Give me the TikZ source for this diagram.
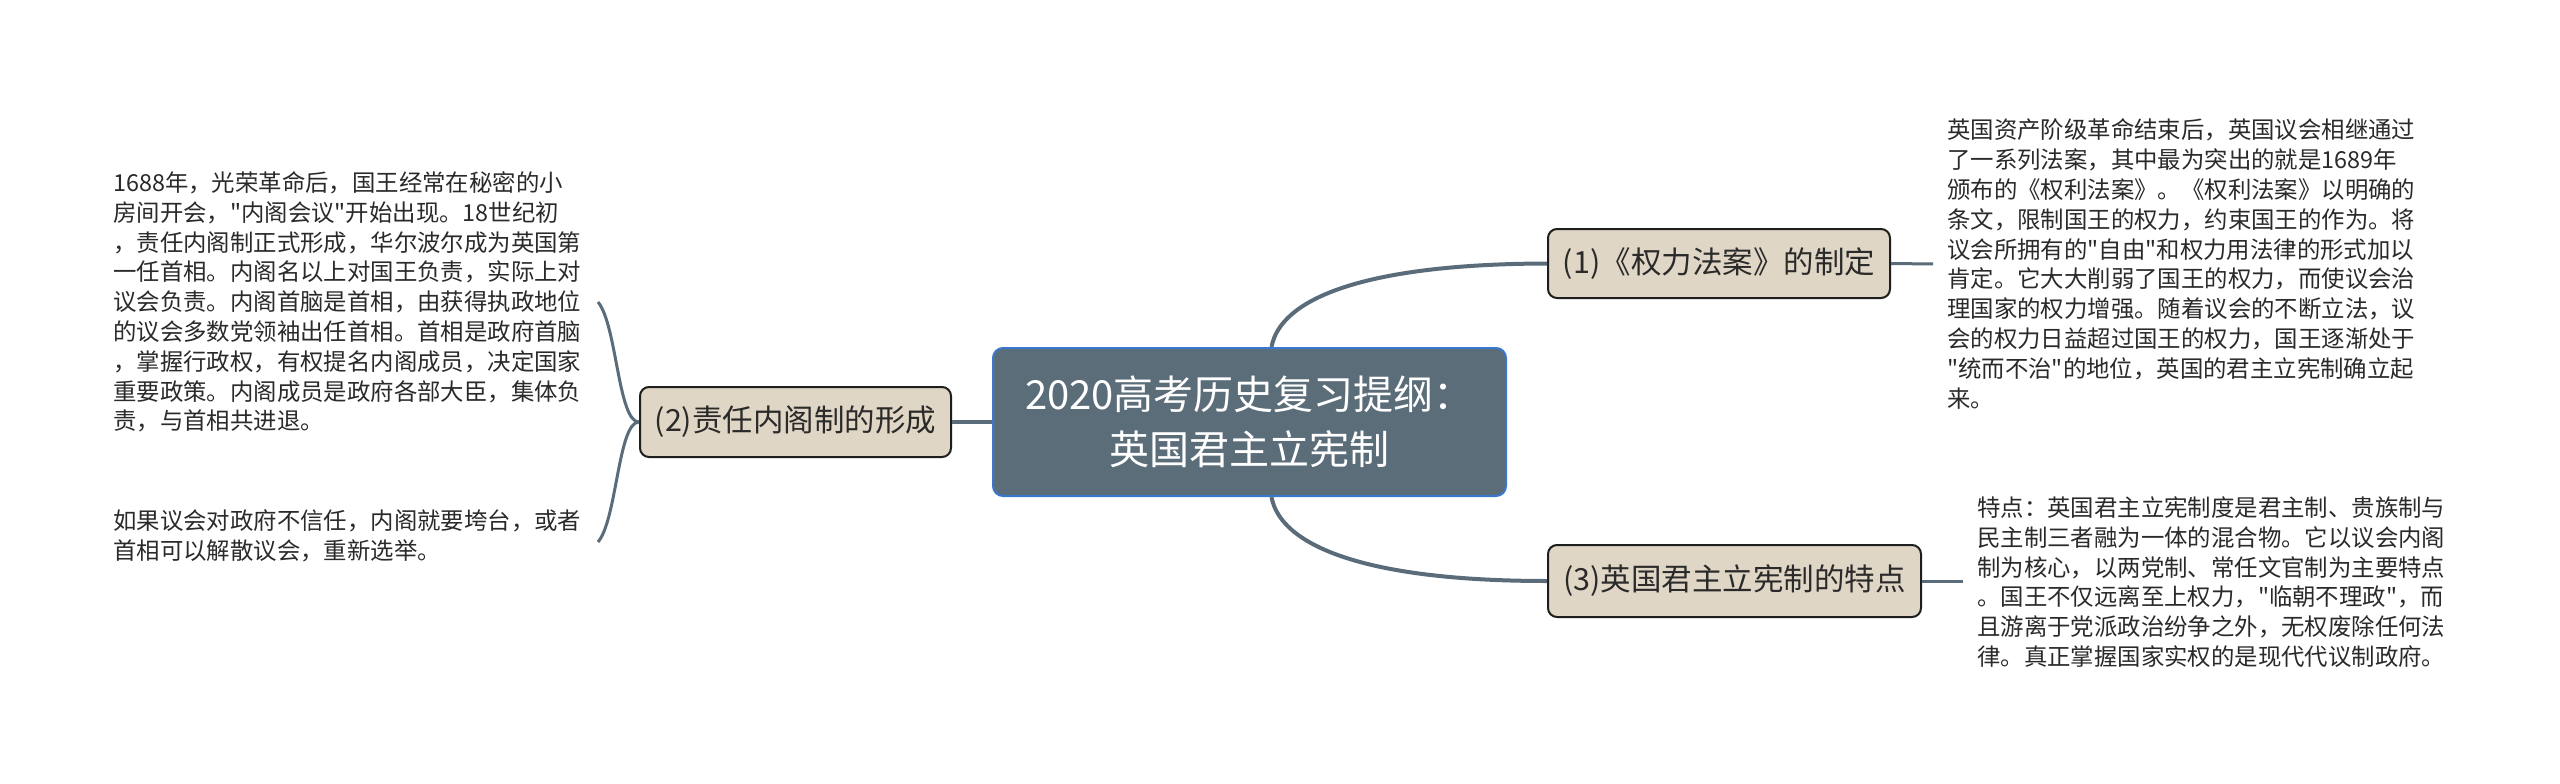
\documentclass[tikz,border=0pt]{standalone}
\usepackage{fontspec}
\setmainfont{Noto Sans CJK SC}[Ligatures=TeXOff]
\definecolor{rootfill}{HTML}{5C6D7A}
\definecolor{rootborder}{HTML}{3A78D0}
\definecolor{nodefill}{HTML}{E0D6C6}
\definecolor{nodeborder}{HTML}{1E1E1E}
\definecolor{linecol}{HTML}{5A6C7A}
\definecolor{textdark}{HTML}{2A2A2A}
\begin{document}
\begin{tikzpicture}[x=1pt,y=-1pt,
  rootbox/.style={draw=rootborder, line width=2pt, fill=rootfill, rounded corners=10pt, text=white,
    font=\fontsize{40}{55}\selectfont, align=center, minimum width=513pt, minimum height=148pt, inner sep=0pt},
  branchbox/.style={draw=nodeborder, line width=2pt, fill=nodefill, rounded corners=9pt, text=textdark,
    font=\fontsize{30.5}{36}\selectfont, inner sep=0pt},
  leaftext/.style={text=textdark, font=\fontsize{23.4}{29.8}\selectfont, align=left, inner sep=0pt, anchor=west},
  mainconn/.style={draw=linecol, line width=4pt},
  leafconn/.style={draw=linecol, line width=3pt}]
\useasboundingbox (0,0) rectangle (2560,784);
\fill[white] (0,0) rectangle (2560,784);

\node[rootbox] (root) at (1249.5,422) {2020高考历史复习提纲：\\英国君主立宪制};
\node[branchbox, minimum width=342pt, minimum height=69pt] (n1) at (1719,263.5) {(1)《权力法案》的制定};
\node[branchbox, minimum width=311pt, minimum height=70pt] (n2) at (795.5,422) {(2)责任内阁制的形成};
\node[branchbox, minimum width=373pt, minimum height=72pt] (n3) at (1734.5,581) {(3)英国君主立宪制的特点};

\node[leaftext] (l1) at (113,302) {1688年，光荣革命后，国王经常在秘密的小\\房间开会，"内阁会议"开始出现。18世纪初\\，责任内阁制正式形成，华尔波尔成为英国第\\一任首相。内阁名以上对国王负责，实际上对\\议会负责。内阁首脑是首相，由获得执政地位\\的议会多数党领袖出任首相。首相是政府首脑\\，掌握行政权，有权提名内阁成员，决定国家\\重要政策。内阁成员是政府各部大臣，集体负\\责，与首相共进退。};
\node[leaftext] (l2) at (113,536) {如果议会对政府不信任，内阁就要垮台，或者\\首相可以解散议会，重新选举。};
\node[leaftext] (r1) at (1947,264) {英国资产阶级革命结束后，英国议会相继通过\\了一系列法案，其中最为突出的就是1689年\\颁布的《权利法案》。《权利法案》以明确的\\条文，限制国王的权力，约束国王的作为。将\\议会所拥有的"自由"和权力用法律的形式加以\\肯定。它大大削弱了国王的权力，而使议会治\\理国家的权力增强。随着议会的不断立法，议\\会的权力日益超过国王的权力，国王逐渐处于\\"统而不治"的地位，英国的君主立宪制确立起\\来。};
\node[leaftext] (r3) at (1977,582) {特点：英国君主立宪制度是君主制、贵族制与\\民主制三者融为一体的混合物。它以议会内阁\\制为核心，以两党制、常任文官制为主要特点\\。国王不仅远离至上权力，"临朝不理政"，而\\且游离于党派政治纷争之外，无权废除任何法\\律。真正掌握国家实权的是现代代议制政府。};

\coordinate (e1) at (598,302);
\coordinate (e2) at (598,542);
\coordinate (e3) at (1933,264);
\coordinate (e4) at (1963,581);

\draw[mainconn] (n2.east) -- (root.west);
\draw[mainconn] ([xshift=22pt]root.north) .. controls (1280,300) and (1360,264) .. (n1.west);
\draw[mainconn] ([xshift=22pt]root.south) .. controls (1280,544) and (1360,581) .. (n3.west);
\draw[leafconn] (n2.west) .. controls (618,422) and (617,325) .. (e1);
\draw[leafconn] (n2.west) .. controls (618,422) and (617,520) .. (e2);
\draw[leafconn] (n1.east) -- (e3);
\draw[leafconn] (n3.east) -- (e4);
\end{tikzpicture}
\end{document}
